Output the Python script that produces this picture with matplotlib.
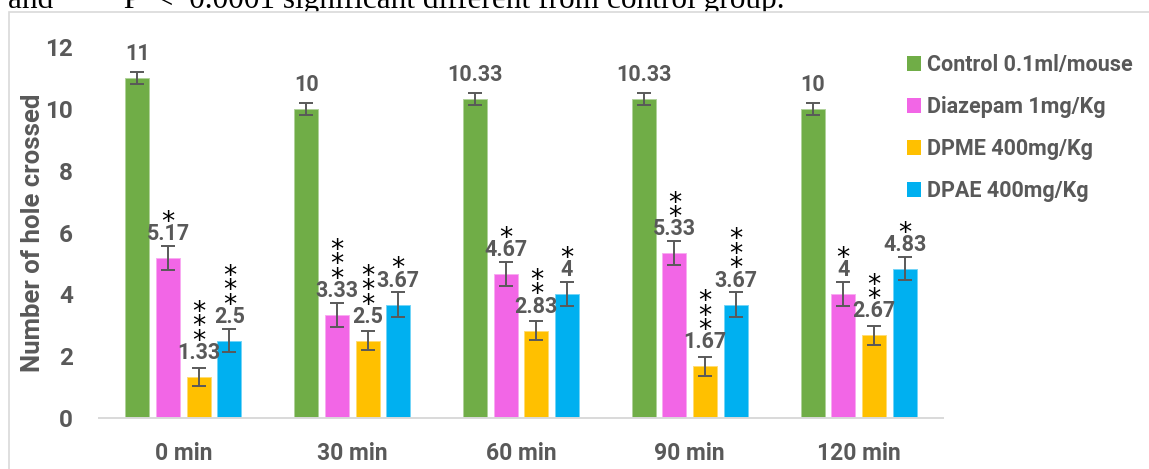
import numpy as np
import matplotlib
matplotlib.use("Agg")
import matplotlib.pyplot as plt
from matplotlib.patches import Rectangle, Patch
from matplotlib.colors import to_rgb

# ---- data -------------------------------------------------------------
times = ["0 min", "30 min", "60 min", "90 min", "120 min"]
groups = ["Control 0.1ml/mouse", "Diazepam 1mg/Kg", "DPME 400mg/Kg", "DPAE 400mg/Kg"]

control = [11, 10, 10.33, 10.33, 10]
diazepam = [5.17, 3.33, 4.67, 5.33, 4]
dpme = [1.33, 2.5, 2.83, 1.67, 2.67]
dpae = [2.5, 3.67, 4, 3.67, 4.83]

control_err = [0.19, 0.20, 0.19, 0.19, 0.20]
diazepam_err = [0.38, 0.38, 0.39, 0.39, 0.39]
dpme_err = [0.29, 0.31, 0.31, 0.31, 0.30]
dpae_err = [0.38, 0.39, 0.39, 0.39, 0.37]

# significance marks (number of asterisks) above each bar
control_stars = [0, 0, 0, 0, 0]
diazepam_stars = [1, 3, 1, 2, 1]
dpme_stars = [3, 3, 2, 3, 2]
dpae_stars = [3, 1, 1, 3, 1]

yticks = [0, 2, 4, 6, 8, 10, 12]

note = "and ***  P  <  0.0001 significant different from control group."

# ---- styling ----------------------------------------------------------
colors = ["#70AD47", "#F266E6", "#FFC000", "#00B0F0"]
TXT = "#595959"
FONT = "Roboto"

W, H = 1149, 469
fig = plt.figure(figsize=(W / 100, H / 100), dpi=100)


def fx(px):
    return px / W


def fy(py):
    return 1 - py / H


# document text line partly hidden behind the chart frame
fig.text(fx(8), fy(8.0), note, family="Liberation Serif", fontsize=22.5,
         va="baseline", ha="left", color="black", zorder=-2)
fig.add_artist(Rectangle((fx(9), -0.05), 1.2, fy(12) + 0.05,
                         transform=fig.transFigure, facecolor="white",
                         edgecolor="#D9D9D9", linewidth=1.2, zorder=-1))

ax = fig.add_axes([fx(99), fy(418), (943 - 99) / W, (418 - 47) / H])
ax.patch.set_alpha(0)

series = [control, diazepam, dpme, dpae]
errors = [control_err, diazepam_err, dpme_err, dpae_err]
stars = [control_stars, diazepam_stars, dpme_stars, dpae_stars]

x = np.arange(len(times))
cat_px = (943 - 99) / len(times)
step = 30.7 / cat_px
width = 24 / cat_px
offsets = (np.arange(len(series)) - 1.5) * step

PX = 72 / 100  # points per pixel

for vals, errs, nst, col, off in zip(series, errors, stars, colors, offsets):
    edge = tuple(0.55 * np.array(to_rgb(col)) + 0.45)
    ax.bar(x + off, vals, width, color=col, edgecolor=edge, linewidth=0.7, zorder=2)
    ax.errorbar(x + off, vals, yerr=errs, fmt="none", ecolor=TXT,
                elinewidth=1.4, capsize=5, capthick=1.4, zorder=3)
    for xi, v, n in zip(x + off, vals, nst):
        ax.annotate(f"{v:g}", (xi, v), xytext=(0, 18.0 * PX),
                    textcoords="offset points", ha="center", va="baseline",
                    fontsize=15.5, fontweight="bold", color=TXT, family=FONT,
                    zorder=4)
        for k in range(n):
            ax.annotate("*", (xi, v), xytext=(0, (42 + 14.5 * k) * PX - 10),
                        textcoords="offset points", ha="center", va="baseline",
                        fontsize=19, color="black", family="DejaVu Sans",
                        zorder=4)

ax.set_xlim(-0.5, len(times) - 0.5)
ax.set_ylim(0, 12)
ax.set_yticks(yticks)
ax.set_yticklabels([str(t) for t in yticks])
ax.set_xticks(x)
ax.set_xticklabels(times)
for lab in ax.get_yticklabels():
    lab.set_fontfamily(FONT)
    lab.set_fontweight("bold")
    lab.set_fontsize(17.5)
    lab.set_color(TXT)
for lab in ax.get_xticklabels():
    lab.set_fontfamily(FONT)
    lab.set_fontweight("bold")
    lab.set_fontsize(16.5)
    lab.set_color(TXT)
ax.tick_params(axis="both", length=0)
ax.tick_params(axis="y", pad=26 * PX)
ax.tick_params(axis="x", pad=24 * PX)

for s in ("top", "right", "left"):
    ax.spines[s].set_visible(False)
ax.spines["bottom"].set_color("#D9D9D9")
ax.spines["bottom"].set_linewidth(1.4)

fig.text(fx(33), fy(233), "Number of hole crossed", rotation=90,
         ha="center", va="center", family=FONT, fontweight="bold",
         fontsize=18.5, color=TXT)

handles = [Patch(facecolor=c) for c in colors]
ax.legend(handles, groups, loc="upper left",
          bbox_to_anchor=(fx(907), fy(54)), bbox_transform=fig.transFigure,
          frameon=False, borderpad=0, borderaxespad=0,
          handlelength=0.65, handleheight=0.65, handletextpad=0.3,
          labelspacing=0.93, labelcolor=TXT,
          prop={"family": FONT, "weight": "bold", "size": 15.5})

fig.savefig("out.png", dpi=100)
